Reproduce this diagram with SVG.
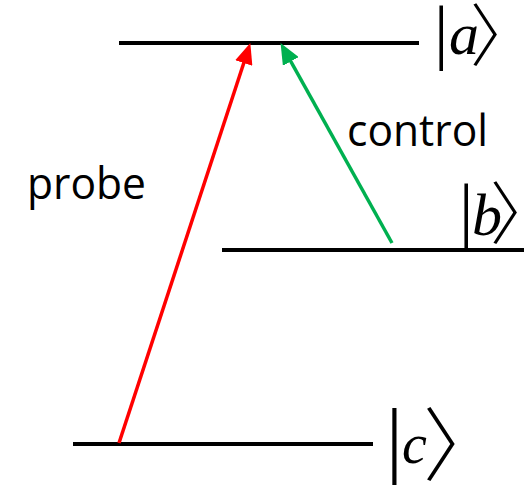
<svg xmlns="http://www.w3.org/2000/svg" width="530" height="489" viewBox="0 0 530 489">
<style>
.lvl{stroke:#000;stroke-width:4;fill:none}
.lbl{font-family:"Open Sans","Liberation Sans",sans-serif;font-size:44px;fill:#000}
.ket{font-family:"Liberation Serif","DejaVu Serif",serif;fill:#000}
.it{font-style:italic}
.br{font-family:"Noto Sans CJK SC","Noto Sans CJK JP",sans-serif;font-weight:300}
</style>
<defs>
<marker id="ar" markerUnits="userSpaceOnUse" markerWidth="22" markerHeight="18" refX="10" refY="9" orient="auto" viewBox="0 0 22 18"><path d="M0,0 L21,9 L0,18 z" fill="#FF0000"/></marker>
<marker id="ag" markerUnits="userSpaceOnUse" markerWidth="22" markerHeight="18" refX="10" refY="9" orient="auto" viewBox="0 0 22 18"><path d="M0,0 L21,9 L0,18 z" fill="#00B050"/></marker>
</defs>
<g id="level-a"><line class="lvl" x1="119" y1="43" x2="419" y2="43"/>
<text class="ket"><tspan x="434" y="56" font-size="72">|</tspan><tspan class="it" x="449" y="54" font-size="60">a</tspan><tspan class="br" x="470" y="61" font-size="68">〉</tspan></text></g>
<g id="level-b"><line class="lvl" x1="222" y1="250" x2="524" y2="250"/>
<text class="ket"><tspan x="459" y="234" font-size="72">|</tspan><tspan class="it" x="472" y="235" font-size="60">b</tspan><tspan class="br" x="490" y="239" font-size="68">〉</tspan></text></g>
<g id="level-c"><line class="lvl" x1="73" y1="444" x2="373" y2="444"/>
<text class="ket"><tspan x="386" y="467" font-size="84">|</tspan><tspan class="it" x="402" y="463" font-size="56">c</tspan><tspan class="br" x="423" y="474" font-size="80">〉</tspan></text></g>
<g id="connectors">
<line x1="119" y1="443" x2="246.9" y2="53.5" stroke="#FF0000" stroke-width="3.5" marker-end="url(#ar)"/>
<line x1="392" y1="243" x2="285.9" y2="52.7" stroke="#00B050" stroke-width="3.5" marker-end="url(#ag)"/>
</g>
<text class="lbl" x="347" y="146" textLength="141" lengthAdjust="spacingAndGlyphs">control</text>
<text class="lbl" x="27" y="199" textLength="119" lengthAdjust="spacingAndGlyphs">probe</text>
</svg>
